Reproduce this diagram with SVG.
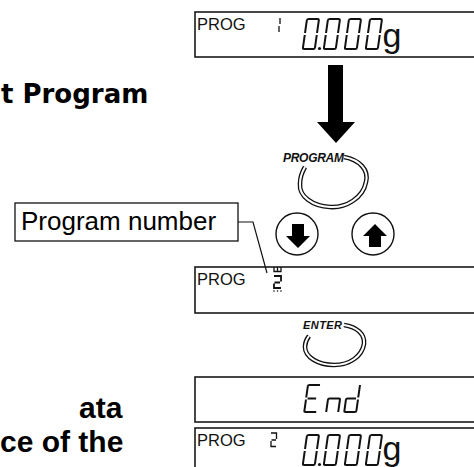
<svg xmlns="http://www.w3.org/2000/svg" xmlns:xlink="http://www.w3.org/1999/xlink" width="474" height="467" viewBox="0 0 474 467">
<style>
.box{fill:#fff;stroke:#1a1a1a;stroke-width:1.6}
.seg{fill:none;stroke:#111;stroke-width:2;stroke-linecap:butt}
.segs{fill:none;stroke:#111;stroke-width:1.3}
.prog{font-family:"Liberation Sans",Arial,sans-serif;font-size:16.5px;fill:#111}
.unit{font-family:"Liberation Sans",Arial,sans-serif;font-size:34px;fill:#111}
.head{font-family:"Liberation Sans",Arial,sans-serif;font-weight:bold;font-size:30px;fill:#000}
.head2{font-family:"DejaVu Sans",Verdana,sans-serif;font-weight:bold;font-size:26px;fill:#000}
.lbl{font-family:"Liberation Sans",Arial,sans-serif;font-size:26px;fill:#000}
.btn{font-family:"Liberation Sans",Arial,sans-serif;font-weight:bold;font-style:italic;fill:#111}
.ring1{fill:none;stroke:#111;stroke-width:4.6}
.ring2{fill:none;stroke:#fff;stroke-width:2}
.circ{fill:#fff;stroke:#111;stroke-width:1.4}
.lead{fill:none;stroke:#111;stroke-width:1.2}
</style>
<defs>
<path id="g0" d="M0,14V1.5Q0,0 1.5,0H10.5Q12,0 12,1.5V14M12,16V28.5Q12,30 10.5,30H1.5Q0,30 0,28.5V16"/>
<path id="gE" d="M12,0H1.5Q0,0 0,1.5V14M0,16V28.5Q0,30 1.5,30H12M1.5,15H10"/>
<path id="gn" d="M0,30V16.5Q0,15 1.5,15H10.5Q12,15 12,16.5V30"/>
<path id="gd" d="M12,0V14M12,16V28.5Q12,30 10.5,30H1.5Q0,30 0,28.5V16.5Q0,15 1.5,15H10"/>
<g id="zero4">
<use xlink:href="#g0" transform="translate(0,0) skewX(-8)"/>
<use xlink:href="#g0" transform="translate(21,0) skewX(-8)"/>
<use xlink:href="#g0" transform="translate(42,0) skewX(-8)"/>
<use xlink:href="#g0" transform="translate(63,0) skewX(-8)"/>
</g>
</defs>

<!-- left headings -->
<g id="heading-top"><text class="head2" x="1" y="103">t Program</text></g>
<g id="heading-bottom">
<text class="head" x="79" y="418">ata</text>
<text class="head" x="0" y="452">ce of the</text>
</g>

<!-- display 1 -->
<g id="display1">
<rect class="box" x="195" y="12" width="300" height="45"/>
<text class="prog" x="197" y="29.5">PROG</text>
<path class="segs" d="M280,18V24M279,26V32"/>
<g class="seg" transform="translate(307,19)"><use xlink:href="#zero4"/></g>
<circle cx="319.5" cy="48.5" r="1.6" fill="#111"/>
<text class="unit" x="382.5" y="47">g</text>
</g>

<!-- big arrow -->
<g id="arrow">
<polygon points="328,65 343,65 343,122 355,122 336,143 317,122 328,122" fill="#000"/>
</g>

<!-- PROGRAM button -->
<g id="btn-program">
<path class="ring1" d="M344,157 C360,160 369,170 366,182 C363,198 346,208 330,207 C312,206 299,196 300,184 C300,178 302,172 305,167"/>
<path class="ring2" d="M344,157 C360,160 369,170 366,182 C363,198 346,208 330,207 C312,206 299,196 300,184 C300,178 302,172 305,167"/>
<text class="btn" x="283" y="162" font-size="12" textLength="61">PROGRAM</text>
</g>

<!-- down / up buttons -->
<g id="btn-down">
<circle class="circ" cx="297" cy="234" r="21"/>
<polygon points="292,224 304,224 304,236 310,236 298,248 286,236 292,236" fill="#000"/>
</g>
<g id="btn-up">
<circle class="circ" cx="373" cy="234" r="21"/>
<polygon points="375,224 387,236 381,236 381,247 369,247 369,236 363,236" fill="#000"/>
</g>

<!-- Program number label -->
<g id="label-program-number">
<rect x="15" y="203" width="223" height="38" fill="#fff" stroke="#111" stroke-width="1.3"/>
<text class="lbl" x="21" y="230">Program number</text>
</g>

<!-- display 2 -->
<g id="display2">
<rect class="box" x="195" y="267" width="300" height="46"/>
<text class="prog" x="197" y="284.5">PROG</text>
<path class="segs" d="M274,267V271.5H281V267M277.5,267V271"/>
<path fill="none" stroke="#111" stroke-width="1.8" d="M274,276H281V281.5M280,282.5H274.5M274,283.5V288H281"/>
<circle cx="274" cy="291" r="0.8" fill="#111"/>
<circle cx="277.5" cy="291" r="0.8" fill="#111"/>
<circle cx="281" cy="291" r="0.8" fill="#111"/>
</g>

<!-- ENTER button -->
<g id="btn-enter">
<path class="ring1" d="M344,325 C357,327 365,334 364,344 C362,356 350,365 334,365 C318,365 305,357 305,347 C305,343 306,340 309,336"/>
<path class="ring2" d="M344,325 C357,327 365,334 364,344 C362,356 350,365 334,365 C318,365 305,357 305,347 C305,343 306,340 309,336"/>
<text class="btn" x="303" y="329" font-size="11" textLength="39">ENTER</text>
</g>

<!-- End display -->
<g id="display-end">
<rect class="box" x="195" y="377" width="300" height="45"/>
<g class="seg">
<use xlink:href="#gE" transform="translate(308,385) skewX(-8) scale(1,0.9)"/>
<use xlink:href="#gn" transform="translate(330,385) skewX(-8) scale(1,0.9)"/>
<use xlink:href="#gd" transform="translate(348,385) skewX(-8) scale(1,0.9)"/>
</g>
</g>

<!-- display 3 -->
<g id="display3">
<rect class="box" x="195" y="428" width="300" height="60"/>
<text class="prog" x="197" y="445.5">PROG</text>
<path class="segs" d="M271,433H276.5V439M276,440H271.5M271,441V446.5H276"/>
<g class="seg" transform="translate(307,435)"><use xlink:href="#zero4"/></g>
<circle cx="319.5" cy="464.5" r="1.6" fill="#111"/>
<text class="unit" x="382.5" y="460">g</text>
</g>

<!-- connectors -->
<g id="connectors">
<polyline class="lead" points="238,222 253,222 267,273"/>
</g>
</svg>
